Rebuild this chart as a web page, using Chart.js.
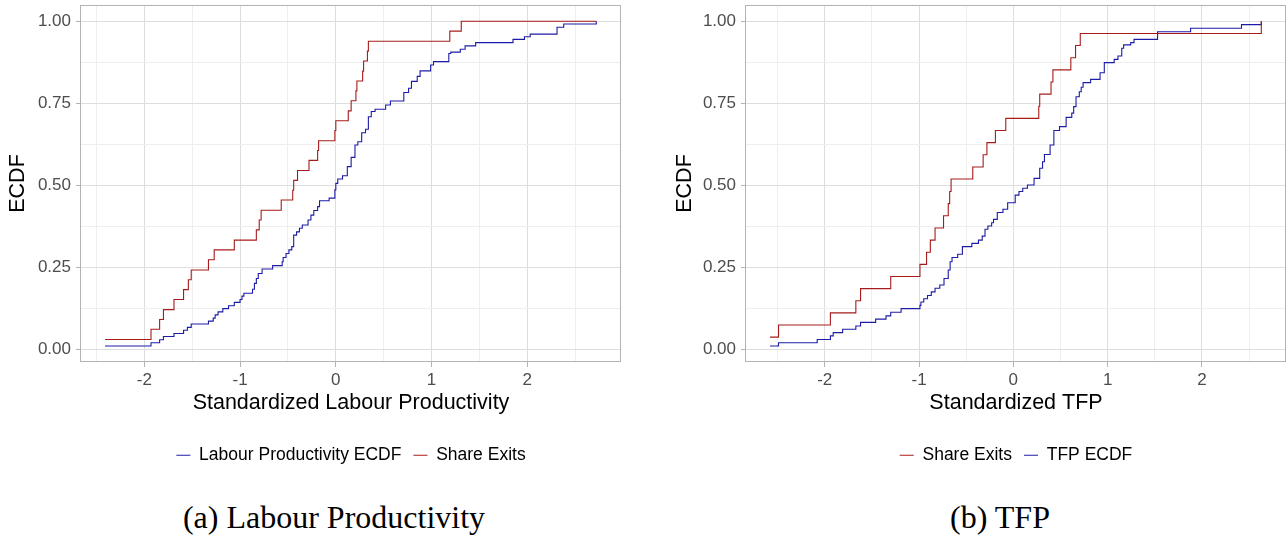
<!DOCTYPE html>
<html lang="en">
<head>
<meta charset="utf-8">
<title>ECDF</title>
<script src="https://cdn.jsdelivr.net/npm/chart.js@4.4.1/dist/chart.umd.min.js"></script>
<style>
  html, body { margin: 0; padding: 0; background: #fff; }
  #page { position: relative; width: 1287px; height: 535px; overflow: hidden; }
  .panel { position: absolute; top: 0; height: 474px; }
  #panelA { left: 0; width: 640px; }
  #panelB { left: 640px; width: 647px; }
  .caption {
    position: absolute; top: 501px;
    font-family: 'Liberation Serif', serif; font-size: 32px; line-height: 32px;
    white-space: nowrap; transform: translateX(-50%); color: #000;
  }
</style>
</head>
<body>
<div id="page">
  <div class="panel" id="panelA"><canvas id="chartLP"></canvas></div>
  <div class="panel" id="panelB"><canvas id="chartTFP"></canvas></div>
  <div class="caption" style="left:334px">(a) Labour Productivity</div>
  <div class="caption" style="left:1000px">(b) TFP</div>
</div>
<script>
// Productivité du travail : ECDF (x = valeur standardisée, y = fréquence cumulée)
const lpX = [-2.41, -1.93, -1.84, -1.80, -1.69, -1.59, -1.55, -1.51, -1.33, -1.28, -1.26, -1.23, -1.18, -1.12,
  -1.06, -1.00, -0.98, -0.96, -0.87, -0.85, -0.83, -0.81, -0.77, -0.66, -0.56, -0.55, -0.52, -0.49, -0.46,
  -0.44, -0.41, -0.38, -0.35, -0.29, -0.26, -0.23, -0.19, -0.17, -0.07, -0.01, 0.00, 0.02, 0.07, 0.12, 0.16,
  0.20, 0.23, 0.27, 0.31, 0.34, 0.37, 0.41, 0.52, 0.57, 0.71, 0.76, 0.79, 0.85, 0.88, 0.99, 1.02, 1.18, 1.20,
  1.30, 1.35, 1.46, 1.85, 1.97, 2.03, 2.31, 2.38, 2.72];
const lpY = [0.010, 0.020, 0.029, 0.039, 0.048, 0.058, 0.067, 0.077, 0.086, 0.095, 0.105, 0.114, 0.124, 0.133,
  0.143, 0.152, 0.162, 0.171, 0.183, 0.201, 0.216, 0.231, 0.245, 0.255, 0.267, 0.280, 0.292, 0.303, 0.313,
  0.348, 0.358, 0.369, 0.379, 0.394, 0.409, 0.423, 0.435, 0.453, 0.461, 0.486, 0.506, 0.519, 0.529, 0.557, 0.585,
  0.623, 0.633, 0.660, 0.671, 0.709, 0.725, 0.732, 0.745, 0.757, 0.783, 0.796, 0.817, 0.832, 0.849, 0.867, 0.877,
  0.902, 0.906, 0.915, 0.925, 0.935, 0.945, 0.953, 0.961, 0.982, 0.992, 1.000];

// Part des sorties (productivité du travail)
const lpExitX = [-2.41, -1.93, -1.84, -1.80, -1.69, -1.59, -1.54, -1.51, -1.33, -1.27, -1.06, -0.83, -0.80,
  -0.78, -0.57, -0.45, -0.44, -0.40, -0.28, -0.19, -0.18, -0.01, 0.00, 0.13, 0.16, 0.21, 0.22, 0.28, 0.29,
  0.33, 0.34, 1.19, 1.31, 2.72];
const lpExitY = [0.030, 0.061, 0.091, 0.121, 0.152, 0.182, 0.212, 0.242, 0.273, 0.303, 0.333, 0.364, 0.394,
  0.424, 0.455, 0.485, 0.515, 0.545, 0.576, 0.606, 0.636, 0.667, 0.697, 0.727, 0.758, 0.788, 0.818, 0.848, 0.879,
  0.909, 0.939, 0.970, 1.000, 1.000];

// PGF : ECDF
const tfpX = [-2.58, -2.49, -2.08, -1.94, -1.91, -1.81, -1.67, -1.62, -1.46, -1.35, -1.30, -1.19, -0.99, -0.98,
  -0.95, -0.91, -0.87, -0.83, -0.78, -0.735, -0.69, -0.67, -0.65, -0.59, -0.54, -0.44, -0.37, -0.33, -0.30,
  -0.27, -0.23, -0.21, -0.17, -0.11, -0.06, 0.02, 0.06, 0.10, 0.15, 0.22, 0.28, 0.31, 0.33, 0.39, 0.43, 0.49,
  0.56, 0.62, 0.64, 0.665, 0.70, 0.72, 0.74, 0.82, 0.92, 0.965, 1.07, 1.11, 1.15, 1.17, 1.245, 1.28, 1.53,
  1.88, 2.42, 2.63];
const tfpY = [0.010, 0.020, 0.030, 0.041, 0.051, 0.061, 0.071, 0.082, 0.092, 0.102, 0.113, 0.124, 0.134, 0.144,
  0.154, 0.164, 0.175, 0.186, 0.196, 0.216, 0.242, 0.267, 0.280, 0.290, 0.313, 0.323, 0.333, 0.345, 0.366,
  0.376, 0.386, 0.396, 0.417, 0.427, 0.447, 0.470, 0.481, 0.491, 0.501, 0.521, 0.552, 0.572, 0.594, 0.623,
  0.667, 0.679, 0.707, 0.720, 0.740, 0.770, 0.785, 0.799, 0.813, 0.823, 0.843, 0.874, 0.884, 0.894, 0.918,
  0.928, 0.935, 0.945, 0.968, 0.979, 0.990, 1.000];

// Part des sorties (PGF)
const tfpExitX = [-2.58, -2.49, -1.94, -1.67, -1.62, -1.30, -0.99, -0.92, -0.88, -0.83, -0.74, -0.69, -0.675,
  -0.66, -0.43, -0.32, -0.28, -0.19, -0.08, 0.27, 0.28, 0.40, 0.42, 0.61, 0.66, 0.71, 2.63];
const tfpExitY = [0.037, 0.074, 0.111, 0.148, 0.185, 0.222, 0.259, 0.296, 0.333, 0.370, 0.407, 0.444, 0.481,
  0.519, 0.556, 0.593, 0.630, 0.667, 0.704, 0.741, 0.778, 0.815, 0.852, 0.889, 0.926, 0.963, 1.000];

// Graduations
const xTicks = [-2, -1, 0, 1, 2];
const xMinorTicks = [-2.5, -1.5, -0.5, 0.5, 1.5, 2.5];
const yTicks = [0, 0.25, 0.5, 0.75, 1];
const yMinorTicks = [0.125, 0.375, 0.625, 0.875];

const RED = '#a61c1c';
const BLUE = '#1c1ca6';

Chart.defaults.font.family = "'Liberation Sans', Arial, sans-serif";

function points(xs, ys) {
  return xs.map((x, i) => ({ x: x, y: ys[i] }));
}

function stepDataset(label, xs, ys, color) {
  return {
    label: label,
    data: points(xs, ys),
    borderColor: color,
    backgroundColor: color,
    borderWidth: 1.1,
    stepped: true,
    pointRadius: 0,
    pointStyle: 'line',
    fill: false
  };
}

// cadre gris autour du panneau
const panelBorder = {
  id: 'panelBorder',
  afterDraw(chart) {
    const a = chart.chartArea;
    const ctx = chart.ctx;
    ctx.save();
    ctx.strokeStyle = '#b3b3b3';
    ctx.lineWidth = 1;
    ctx.strokeRect(Math.round(a.left) - 0.5, Math.round(a.top) + 0.5,
      Math.round(a.right - a.left), Math.round(a.bottom - a.top) - 1);
    ctx.restore();
  }
};

function gridOpts(isMajor) {
  return {
    color: c => isMajor(c.tick.value) ? '#dedede' : '#eeeeee',
    lineWidth: 1,
    drawTicks: true,
    tickLength: 5,
    tickColor: c => isMajor(c.tick.value) ? '#b3b3b3' : 'rgba(0,0,0,0)'
  };
}

const isMajorX = v => Number.isInteger(v);
const isMajorY = v => Number.isInteger(Math.round(v * 1000) / 250);

// pas de marge automatique pour les étiquettes extrêmes
function noPadding(s) {
  s.paddingTop = 0;
  s.paddingBottom = 0;
  s.paddingLeft = 0;
  s.paddingRight = 0;
}

function makeChart(id, datasets, xMin, xMax, xTitle, yWidth, pad) {
  const ctx = document.getElementById(id).getContext('2d');
  return new Chart(ctx, {
    type: 'line',
    data: { datasets: datasets },
    options: {
      responsive: true,
      maintainAspectRatio: false,
      animation: false,
      events: [],
      layout: { padding: pad },
      scales: {
        x: {
          type: 'linear',
          min: xMin,
          max: xMax,
          afterBuildTicks: s => {
            s.ticks = xTicks.concat(xMinorTicks).sort((a, b) => a - b).map(v => ({ value: v }));
          },
          afterFit: s => { s.height = 72.5; noPadding(s); },
          grid: gridOpts(isMajorX),
          border: { display: false },
          ticks: {
            autoSkip: false,
            maxRotation: 0,
            padding: 3,
            color: '#4d4d4d',
            font: { size: 17 },
            callback: v => isMajorX(v) ? String(v) : ''
          },
          title: {
            display: true,
            text: xTitle,
            color: '#000',
            font: { size: 21.5 },
            padding: { top: 0, bottom: 19 }
          }
        },
        y: {
          type: 'linear',
          min: -0.0387,
          max: 1.0497,
          afterBuildTicks: s => {
            s.ticks = yTicks.concat(yMinorTicks).sort((a, b) => a - b).map(v => ({ value: v }));
          },
          afterFit: s => { s.width = yWidth; noPadding(s); },
          grid: gridOpts(isMajorY),
          border: { display: false },
          ticks: {
            autoSkip: false,
            padding: 5,
            color: '#4d4d4d',
            font: { size: 17 },
            callback: v => isMajorY(v) ? v.toFixed(2) : ''
          },
          title: {
            display: true,
            text: 'ECDF',
            color: '#000',
            font: { size: 21.5 },
            padding: { top: 5.5, bottom: 0 }
          }
        }
      },
      plugins: {
        tooltip: { enabled: false },
        legend: {
          display: true,
          position: 'bottom',
          fullSize: false,
          labels: {
            usePointStyle: true,
            pointStyleWidth: 14,
            padding: 12,
            color: '#000',
            font: { size: 17.5 }
          }
        }
      }
    },
    plugins: [panelBorder]
  });
}

document.addEventListener('DOMContentLoaded', function() {
  makeChart('chartLP', [
    stepDataset('Labour Productivity ECDF', lpX, lpY, BLUE),
    stepDataset('Share Exits', lpExitX, lpExitY, RED)
  ], -2.661, 2.978, 'Standardized Labour Productivity', 81, { left: 0, right: 19, top: 5, bottom: 0 });

  makeChart('chartTFP', [
    stepDataset('Share Exits', tfpExitX, tfpExitY, RED),
    stepDataset('TFP ECDF', tfpX, tfpY, BLUE)
  ], -2.835, 2.892, 'Standardized TFP', 79, { left: 27, right: 1, top: 5, bottom: 0 });
});
</script>
</body>
</html>
